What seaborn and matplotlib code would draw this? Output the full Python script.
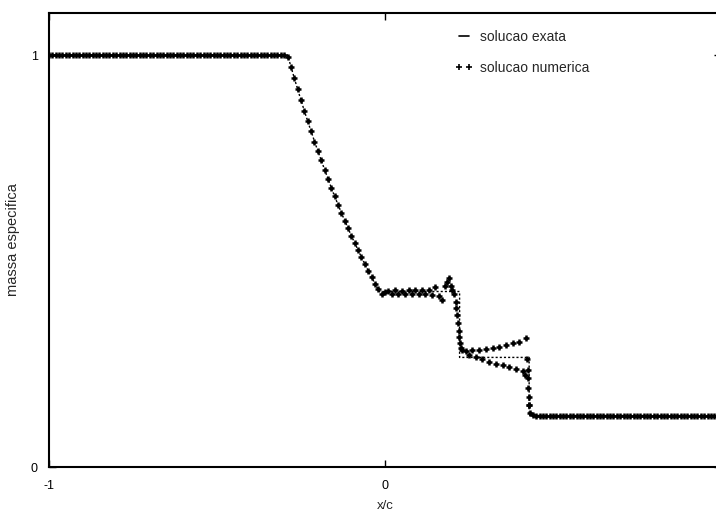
import numpy as np
import pandas as pd
import matplotlib
matplotlib.use("Agg")
import matplotlib.pyplot as plt
from matplotlib.lines import Line2D
import seaborn as sns

# ---------------- data ----------------
# exact solution (breakpoints of the piecewise profile)
exact_x = [-1.0, -0.29, -0.27, -0.25, -0.23, -0.20, -0.17, -0.15, -0.12, -0.10,
           -0.07, -0.05, -0.03, -0.017, 0.222, 0.222, 0.429, 0.429, 1.0]
exact_rho = [1.0, 1.0, 0.944, 0.890, 0.839, 0.767, 0.700, 0.657, 0.598, 0.561,
             0.509, 0.476, 0.445, 0.426, 0.426, 0.266, 0.266, 0.125, 0.125]

# numerical solution on the mesh x = -1.00, -0.99, ..., 1.00
num_rho = [
    1.0, 1.0, 1.0, 1.0, 1.0, 1.0, 1.0, 1.0, 1.0, 1.0,
    1.0, 1.0, 1.0, 1.0, 1.0, 1.0, 1.0, 1.0, 1.0, 1.0,
    1.0, 1.0, 1.0, 1.0, 1.0, 1.0, 1.0, 1.0, 1.0, 1.0,
    1.0, 1.0, 1.0, 1.0, 1.0, 1.0, 1.0, 1.0, 1.0, 1.0,
    1.0, 1.0, 1.0, 1.0, 1.0, 1.0, 1.0, 1.0, 1.0, 1.0,
    1.0, 1.0, 1.0, 1.0, 1.0, 1.0, 1.0, 1.0, 1.0, 1.0,
    1.0, 1.0, 1.0, 1.0, 1.0, 1.0, 1.0, 1.0, 1.0, 1.0,
    1.0,
    0.995, 0.972, 0.945, 0.917, 0.890, 0.865, 0.839, 0.815, 0.790,
    0.767, 0.744, 0.721, 0.700, 0.678, 0.657, 0.637, 0.617, 0.598, 0.579,
    0.561, 0.543, 0.526, 0.509, 0.492, 0.476, 0.460, 0.445, 0.431, 0.420,
    0.424, 0.428, 0.421, 0.429, 0.421, 0.428, 0.421, 0.429, 0.420, 0.429,
    0.420, 0.430, 0.419, 0.430, 0.418, 0.437, 0.415, 0.405, 0.440, 0.458,
    0.430, 0.385, 0.315, 0.283,
    0.282, 0.272, 0.284, 0.266, 0.285, 0.261, 0.287, 0.256, 0.289, 0.251,
    0.291, 0.247, 0.295, 0.243, 0.300, 0.238, 0.304, 0.232,
    0.314, 0.150, 0.127,
    0.125, 0.125, 0.125, 0.125, 0.125, 0.125, 0.125, 0.125, 0.125, 0.125,
    0.125, 0.125, 0.125, 0.125, 0.125, 0.125, 0.125, 0.125, 0.125, 0.125,
    0.125, 0.125, 0.125, 0.125, 0.125, 0.125, 0.125, 0.125, 0.125, 0.125,
    0.125, 0.125, 0.125, 0.125, 0.125, 0.125, 0.125, 0.125, 0.125, 0.125,
    0.125, 0.125, 0.125, 0.125, 0.125, 0.125, 0.125, 0.125, 0.125, 0.125,
    0.125, 0.125, 0.125, 0.125, 0.125, 0.125,
]
num_x = np.round(np.linspace(-1.0, 1.0, len(num_rho)), 3)

# extra numerical points inside the contact and shock transitions
fine_x = [0.185, 0.195, 0.205, 0.212, 0.215, 0.218, 0.221, 0.224, 0.227,
          0.418, 0.423, 0.425, 0.426, 0.427, 0.428, 0.430, 0.432]
fine_rho = [0.448, 0.440, 0.420, 0.400, 0.370, 0.350, 0.330, 0.300, 0.290,
            0.223, 0.262, 0.235, 0.216, 0.192, 0.170, 0.150, 0.131]

x_ticks = [-1, 0]
x_ticklabels = ["-1", "0"]
y_ticks = [0, 1]
y_ticklabels = ["0", "1"]

label_exact = "solucao exata"
label_num = "solucao numerica"
xlabel = "x/c"
ylabel = "massa especifica"

# ---------------- figure ----------------
sns.set_style("ticks")
plt.rcParams["font.family"] = ["Liberation Sans", "DejaVu Sans"]

W, H = 716, 511
fig = plt.figure(figsize=(W / 100, H / 100), dpi=100)
ax = fig.add_axes([49 / W, 44 / H, 672 / W, 454 / H])

exact_df = pd.DataFrame({"x": exact_x, "rho": exact_rho})
num_df = pd.DataFrame({"x": np.concatenate([num_x, fine_x]),
                       "rho": np.concatenate([num_rho, fine_rho])})

sns.lineplot(data=exact_df, x="x", y="rho", ax=ax, estimator=None, sort=False,
             color="black", linewidth=1.0, linestyle=(0, (1.5, 1.5)))
sns.scatterplot(data=num_df, x="x", y="rho", ax=ax, marker="+", s=24,
                color="black", linewidth=1.8)

ax.set_xlim(-1, 1)
ax.set_ylim(0, 1.102)
ax.set_xticks(x_ticks)
ax.set_xticklabels(x_ticklabels)
ax.set_yticks(y_ticks)
ax.set_yticklabels(y_ticklabels)
ax.tick_params(direction="in", length=5, width=1, top=True, right=True,
               labelsize=9, colors="black", pad=9)
ax.tick_params(axis="y", pad=8)
for s in ax.spines.values():
    s.set_linewidth(1.5)
    s.set_color("black")

ax.set_xlabel(xlabel, fontsize=9.5, labelpad=6)
ax.set_ylabel(ylabel, fontsize=10.5, labelpad=8)

handles = [Line2D([], [], color="black", linewidth=1.2),
           Line2D([], [], color="black", linestyle="none", marker="+",
                  markersize=5, markeredgewidth=1.2)]
ax.legend(handles=handles, labels=[label_exact, label_num], loc="upper left",
          bbox_to_anchor=(0.590, 0.984), frameon=False, fontsize=10,
          handlelength=1.3, handletextpad=0.5, labelspacing=1.25, numpoints=2,
          borderpad=0.2)

fig.savefig("out.png", dpi=100)
